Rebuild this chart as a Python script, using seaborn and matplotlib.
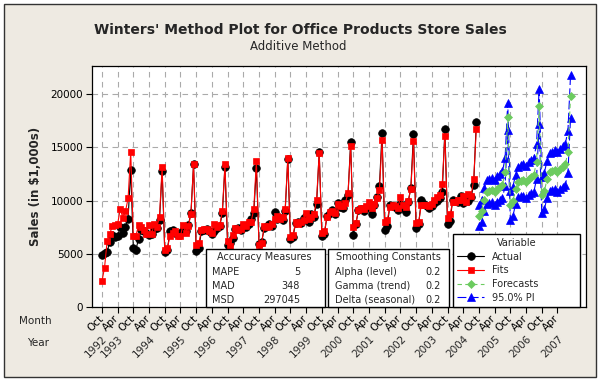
import numpy as np
import matplotlib
matplotlib.use("Agg")
import matplotlib.pyplot as plt
import seaborn as sns
from matplotlib.patches import Rectangle
from matplotlib.transforms import blended_transform_factory

# ---------------- data ----------------
actual = [
    4900, 5100, 5200, 6100, 6800, 6600, 6700, 7500, 7000, 7500, 8300, 12900,
    5500, 5400, 6400, 7200, 7100, 7000, 6800, 6900, 7300, 7400, 8200, 12800,
    5200, 5400, 7100, 7200, 7000, 6900, 7000, 7200, 7100, 7700, 8800, 13400,
    5300, 5500, 7100, 7200, 7300, 7100, 6900, 7100, 7400, 7600, 8800, 13200,
    5800, 6000, 6500, 7300, 7400, 7200, 7600, 7500, 7800, 8300, 8800, 13100,
    5900, 6100, 7400, 7600, 7800, 7600, 8900, 8300, 8400, 8200, 9000, 13900,
    6400, 6600, 7900, 8000, 7900, 8400, 8600, 8000, 8700, 8500, 9700, 14600,
    6700, 6900, 8600, 8800, 9100, 8700, 9800, 9400, 9300, 10100, 10500, 15500,
    6800, 7800, 9100, 9200, 9000, 9300, 9500, 8700, 9600, 10300, 11400, 16400,
    7200, 7600, 9600, 9500, 9400, 9100, 9700, 9300, 8900, 9900, 11200, 16300,
    7400, 7800, 10100, 9700, 9500, 9300, 9500, 9800, 10000, 10200, 10800, 16700,
    7800, 8100, 10100, 10000, 9900, 10400, 9800, 10100, 10000, 10300, 11500, 17400,
]
fits = [
    2400, 3700, 6200, 6900, 7600, 7700, 7800, 9200, 8400, 9000, 10200, 14600,
    6700, 6700, 7700, 7500, 7200, 6900, 7700, 6900, 7800, 7500, 8500, 13200,
    5400, 5500, 6700, 7000, 7100, 6700, 6700, 7700, 7000, 7600, 8700, 13400,
    5800, 6000, 7200, 7300, 7300, 7100, 7000, 7800, 7500, 7700, 9000, 13400,
    6200, 5700, 6800, 7400, 7200, 7300, 7800, 7600, 8000, 8000, 9200, 13700,
    5800, 6000, 7600, 7500, 7600, 7800, 8300, 8600, 8300, 8500, 9200, 14000,
    6600, 6800, 8000, 7800, 8000, 8200, 8800, 8300, 8500, 8700, 10100, 14500,
    7000, 7100, 8500, 8900, 9000, 8800, 9700, 9500, 9500, 9800, 10700, 15100,
    7500, 7900, 9100, 9300, 9200, 9500, 9900, 9300, 9700, 10200, 11000, 15700,
    8000, 8200, 9400, 9600, 9500, 9300, 10300, 9600, 9400, 10000, 11100, 15600,
    7900, 8000, 9600, 9600, 9600, 9500, 9700, 10100, 10300, 10500, 11600, 16100,
    8400, 8700, 9900, 9900, 10100, 10100, 10400, 9900, 10600, 10400, 12000, 16700,
]
forecasts = [
    8600, 9000, 10100, 10800, 10900, 11000, 10800, 11100, 11300, 11500, 12700, 17900,
    9550, 9950, 11050, 11750, 11850, 11950, 11750, 12050, 12250, 12450, 13650, 18850,
    10500, 10900, 12000, 12700, 12800, 12900, 12700, 13000, 13200, 13400, 14600, 19800,
]
pi_lower = [
    7600, 7970, 9040, 9710, 9790, 9860, 9630, 9900, 10070, 10240, 11410, 16590,
    8210, 8580, 9650, 10320, 10390, 10460, 10240, 10510, 10680, 10850, 12020, 17190,
    8810, 9190, 10260, 10930, 11000, 11070, 10840, 11110, 11290, 11460, 12630, 17800,
]
pi_upper = [
    9600, 10030, 11160, 11890, 12010, 12140, 11970, 12300, 12530, 12760, 13990, 19210,
    10890, 11320, 12450, 13180, 13310, 13440, 13260, 13590, 13820, 14050, 15280, 20510,
    12190, 12610, 13740, 14470, 14600, 14730, 14560, 14890, 15110, 15340, 16570, 21800,
]
month_labels = ["Oct", "Apr"] * 15
year_labels = ["1992", "1993", "1994", "1995", "1996", "1997", "1998", "1999",
               "2000", "2001", "2002", "2003", "2004", "2005", "2006", "2007"]
year_tick_idx = [0, 1, 3, 5, 7, 9, 11, 13, 15, 17, 19, 21, 23, 25, 27, 29]
y_ticks = [0, 5000, 10000, 15000, 20000]
accuracy = [("MAPE", "5"), ("MAD", "348"), ("MSD", "297045")]
smoothing = [("Alpha (level)", "0.2"), ("Gamma (trend)", "0.2"), ("Delta (seasonal)", "0.2")]

# ---------------- figure ----------------
sns.set_style("white")
plt.rcParams["font.family"] = ["DejaVu Sans"]

W, H = 600, 385
fig = plt.figure(figsize=(6.0, 3.85), dpi=100, facecolor="white")

def fx(px):
    return px / W

def fy(py):
    return 1 - py / H

# beige background panel with border
fig.add_artist(Rectangle((fx(4), fy(377)), fx(592), 373 / H, transform=fig.transFigure,
                         facecolor="#EEEAE2", edgecolor="#333333", lw=1.0, zorder=-10))

ax = fig.add_axes([fx(91.7), fy(307), fx(586 - 91.7), (307 - 65.7) / H])
ax.set_facecolor("white")

t_hist = np.arange(len(actual))
t_fc = np.arange(len(actual), len(actual) + len(forecasts))

green = "#6CCB5F"
sns.lineplot(x=t_hist, y=actual, ax=ax, color="black", marker="o", markersize=5.5,
             markeredgecolor="black", markeredgewidth=0.5, linewidth=0.8, label="Actual", zorder=3)
sns.lineplot(x=t_hist, y=fits, ax=ax, color="red", marker="s", markersize=4.6,
             markeredgecolor="red", markeredgewidth=0.5, linewidth=0.8, label="Fits", zorder=4)
sns.lineplot(x=t_fc, y=forecasts, ax=ax, color=green, marker="D", markersize=4.3,
             markeredgecolor=green, markeredgewidth=0.5, linewidth=0.8, linestyle=(0, (4, 3)),
             label="Forecasts", zorder=4)
sns.lineplot(x=t_fc, y=pi_lower, ax=ax, color="blue", marker="^", markersize=5.2,
             markeredgecolor="blue", markeredgewidth=0.5, linewidth=0.8, linestyle=(0, (8, 3)),
             label="95.0% PI", zorder=3)
sns.lineplot(x=t_fc, y=pi_upper, ax=ax, color="blue", marker="^", markersize=5.2,
             markeredgecolor="blue", markeredgewidth=0.5, linewidth=0.8, linestyle=(0, (8, 3)),
             label="_nolegend_", zorder=3)

ax.set_xlim(-3.9, 184.9)
ax.set_ylim(0, 22680)
xt = np.arange(0, 6 * len(month_labels), 6)
ax.set_xticks(xt)
ax.set_xticklabels(month_labels, rotation=45, ha="right", va="center",
                   rotation_mode="anchor", fontsize=7.5)
ax.set_yticks(y_ticks)
ax.set_yticklabels([str(v) for v in y_ticks], fontsize=7.5)
ax.tick_params(axis="x", length=4, width=0.8, pad=3, colors="black", direction="out", bottom=True)
ax.tick_params(axis="y", length=4, width=0.8, pad=2, colors="black", direction="out", left=True)
ax.grid(True, linestyle=(0, (5, 4)), color="#AAAAAA", linewidth=0.8)
ax.set_axisbelow(True)
for s in ax.spines.values():
    s.set_color("black")
    s.set_linewidth(0.9)
ax.set_xlabel("")
ax.set_ylabel("Sales (in $1,000s)", fontsize=8.5, fontweight="bold", labelpad=6)

# year labels (second row of time stamps)
trans = blended_transform_factory(ax.transData, fig.transFigure)
for lab, idx in zip(year_labels, year_tick_idx):
    ax.text(xt[idx] + 1.5, fy(337), lab, transform=trans, rotation=45, ha="right", va="center",
            rotation_mode="anchor", fontsize=7.5, clip_on=False)
fig.text(fx(35), fy(321), "Month", ha="center", va="center", fontsize=7.5)
fig.text(fx(38), fy(343), "Year", ha="center", va="center", fontsize=7.5)

# titles
fig.text(fx(300), fy(30), "Winters' Method Plot for Office Products Store Sales",
         ha="center", va="center", fontsize=10, fontweight="bold")
fig.text(fx(298), fy(46), "Additive Method", ha="center", va="center", fontsize=8.5)

# text boxes
def box(x0, y0, x1, y1):
    fig.add_artist(Rectangle((fx(x0), fy(y1)), fx(x1 - x0), (y1 - y0) / H,
                             transform=fig.transFigure, facecolor="white",
                             edgecolor="black", lw=1.0, zorder=5))

box(205.7, 249, 324.7, 306.5)
fig.text(fx(264), fy(257.5), "Accuracy Measures", ha="center", va="center", fontsize=7, zorder=6)
for i, (k, v) in enumerate(accuracy):
    yy = 271.7 + 14 * i
    fig.text(fx(212), fy(yy), k, ha="left", va="center", fontsize=7, zorder=6)
    fig.text(fx(300), fy(yy), v, ha="right", va="center", fontsize=7, zorder=6)

box(328.3, 249, 449.3, 306.5)
fig.text(fx(388.5), fy(257.5), "Smoothing Constants", ha="center", va="center", fontsize=7, zorder=6)
for i, (k, v) in enumerate(smoothing):
    yy = 271.7 + 14 * i
    fig.text(fx(335), fy(yy), k, ha="left", va="center", fontsize=7, zorder=6)
    fig.text(fx(441), fy(yy), v, ha="right", va="center", fontsize=7, zorder=6)

# legend
handles, labels = ax.get_legend_handles_labels()
leg = ax.legend(handles, labels, title="Variable", loc="lower left",
                bbox_to_anchor=(fx(453.3), fy(306.5), fx(580 - 453.3), (306.5 - 234.7) / H),
                bbox_transform=fig.transFigure, mode="expand", borderaxespad=0,
                frameon=True, fancybox=False, edgecolor="black", framealpha=1,
                fontsize=7, title_fontsize=7, handlelength=2.8, handletextpad=0.8,
                labelspacing=0.38, borderpad=0.4)
leg.get_frame().set_linewidth(1.0)
leg.set_zorder(10)

fig.savefig("out.png", dpi=100, facecolor=fig.get_facecolor())
